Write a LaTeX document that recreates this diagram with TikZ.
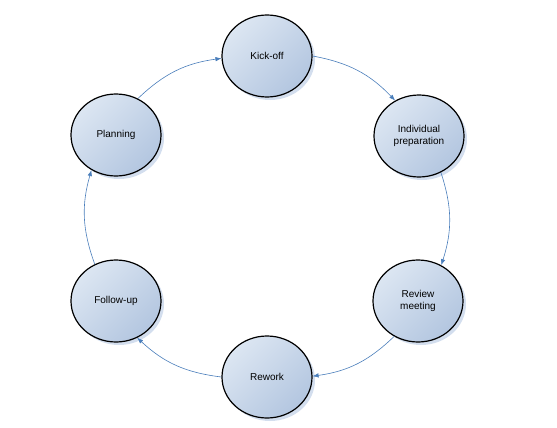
\documentclass[tikz,border=0pt]{standalone}
\usepackage{fontspec}
\setmainfont{Liberation Sans}
\usetikzlibrary{shapes.geometric,arrows.meta,shadows}
\definecolor{edgeblue}{HTML}{4A7EBB}
\definecolor{lightfill}{HTML}{DCE6F2}
\definecolor{darkfill}{HTML}{B3C6E0}
\definecolor{shadowblue}{HTML}{D3DEEE}
\begin{document}
\begin{tikzpicture}[x=1pt,y=1pt,
  stage/.style={ellipse, draw=black, line width=1.2pt, minimum width=90pt, minimum height=82pt,
    inner sep=0pt, align=center, font=\fontsize{10}{12}\selectfont,
    top color=lightfill, bottom color=darkfill, shading angle=45,
    drop shadow={shadow xshift=3pt, shadow yshift=-3pt, fill=shadowblue, opacity=1}},
  flow/.style={draw=edgeblue, line width=0.6pt, -{Latex[length=6pt,width=4.5pt]}, bend left=18}]
\useasboundingbox (0,0) rectangle (557,-428);
\node[stage] (kick) at (267,-56) {Kick-off};
\node[stage] (prep) at (419,-136) {Individual\\preparation};
\node[stage] (review) at (418,-301) {Review\\meeting};
\node[stage] (rework) at (267,-377) {Rework};
\node[stage] (follow) at (116,-301) {Follow-up};
\node[stage] (plan) at (116,-135) {Planning};
\draw[flow] (plan.59) to (kick.183);
\draw[flow] (kick.0) to (prep.124);
\draw[flow] (prep.301) to (review.57);
\draw[flow] (review.236) to (rework.1);
\draw[flow] (rework.180) to (follow.300);
\draw[flow] (follow.120) to (plan.235);
\end{tikzpicture}
\end{document}
